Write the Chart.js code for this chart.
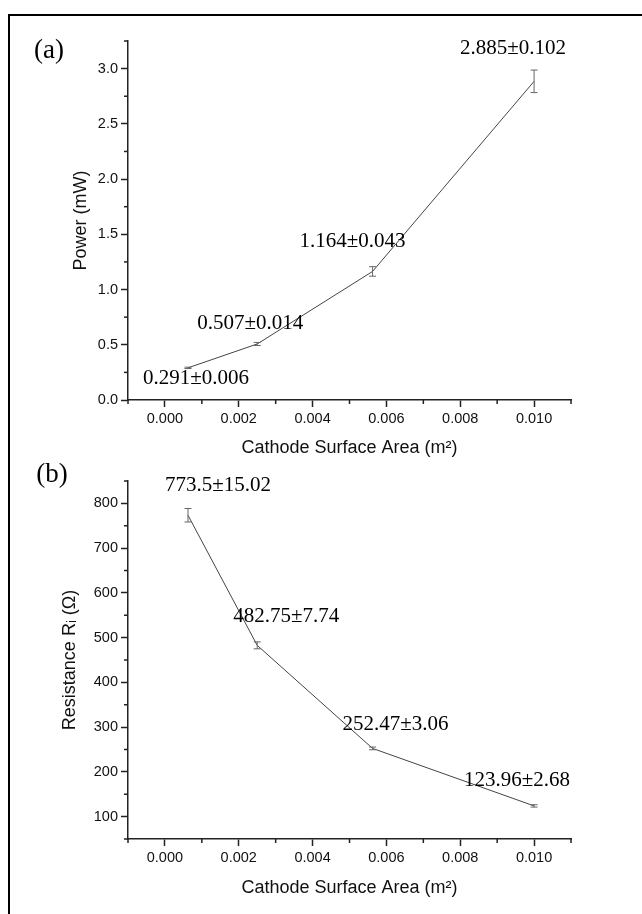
<!DOCTYPE html>
<html><head><meta charset="utf-8">
<script src="https://cdn.jsdelivr.net/npm/chart.js@4.4.1/dist/chart.umd.min.js"></script>
<style>
html,body{margin:0;padding:0;background:#fff;}
#wrap{position:relative;width:642px;height:914px;overflow:hidden;}
#frame{position:absolute;left:8px;top:14px;width:640px;height:910px;border-top:2px solid #000;border-left:2px solid #000;}
canvas{position:absolute;left:0;}
#ca{top:0;} #cb{top:460px;}
</style></head><body>
<div id="wrap"><div id="frame"></div>
<canvas id="ca" width="642" height="460"></canvas>
<canvas id="cb" width="642" height="454"></canvas>
</div>
<script>
// ---- data ----
const areas = [0.000625, 0.0025, 0.005625, 0.010];
const power = [0.291, 0.507, 1.164, 2.885];
const powerErr = [0.006, 0.014, 0.043, 0.102];
const resistance = [773.5, 482.75, 252.47, 123.96];
const resistanceErr = [15.02, 7.74, 3.06, 2.68];
const xTicks = [0, 0.002, 0.004, 0.006, 0.008, 0.010];
const xMinorTicks = [-0.001, 0.001, 0.003, 0.005, 0.007, 0.009, 0.011];
const powerTicks = [0, 0.5, 1.0, 1.5, 2.0, 2.5, 3.0];
const powerMinorTicks = [0.25, 0.75, 1.25, 1.75, 2.25, 2.75, 3.25];
const resTicks = [100, 200, 300, 400, 500, 600, 700, 800];
const resMinorTicks = [50, 150, 250, 350, 450, 550, 650, 750, 850];
const xTitle = 'Cathode Surface Area (m\u00B2)';
const powerTitle = 'Power (mW)';
const resTitle = 'Resistance R\u1D62 (\u03A9)';

const SANS = '"Liberation Sans", Arial, sans-serif';
const SERIF = '"Liberation Serif", "Times New Roman", serif';

const decor = {
  id: 'decor',
  afterDatasetsDraw(chart, args, o) {
    const ctx = chart.ctx, xs = chart.scales.x, ys = chart.scales.y;
    const ds = chart.data.datasets[0];
    ctx.save();
    // minor ticks
    ctx.strokeStyle = '#222'; ctx.lineWidth = 1.5;
    o.xMinor.forEach(v => { const px = xs.getPixelForValue(v); ctx.beginPath(); ctx.moveTo(px, xs.top); ctx.lineTo(px, xs.top + o.minorLen); ctx.stroke(); });
    o.yMinor.forEach(v => { const py = ys.getPixelForValue(v); ctx.beginPath(); ctx.moveTo(ys.right, py); ctx.lineTo(ys.right - o.minorLen, py); ctx.stroke(); });
    // error bars
    ctx.strokeStyle = '#666'; ctx.lineWidth = 1;
    ds.data.forEach((p, i) => {
      const e = ds.errors[i];
      const px = xs.getPixelForValue(p.x);
      const t = ys.getPixelForValue(p.y + e), b = ys.getPixelForValue(p.y - e);
      ctx.beginPath();
      ctx.moveTo(px, t); ctx.lineTo(px, b);
      ctx.moveTo(px - o.cap, t); ctx.lineTo(px + o.cap, t);
      ctx.moveTo(px - o.cap, b); ctx.lineTo(px + o.cap, b);
      ctx.stroke();
    });
    // value labels
    ctx.fillStyle = '#000'; ctx.font = o.labelFont;
    ctx.textAlign = 'center'; ctx.textBaseline = 'middle';
    ds.data.forEach((p, i) => {
      const px = xs.getPixelForValue(p.x), py = ys.getPixelForValue(p.y);
      const off = o.offsets[i];
      ctx.fillText(p.y + '\u00B1' + ds.errors[i], px + off[0], py + off[1]);
    });
    // panel letter
    ctx.font = o.panelFont;
    ctx.fillText(o.panel, chart.chartArea.left + o.panelPos[0], chart.chartArea.top + o.panelPos[1]);
    ctx.restore();
  }
};

function makeChart(id, yVals, yErr, yMin, yMax, yMajor, yMinor, yDigits, yTitleText, L) {
  return new Chart(document.getElementById(id), {
    type: 'scatter',
    data: {
      datasets: [{
        data: areas.map((a, i) => ({ x: a, y: yVals[i] })),
        errors: yErr,
        showLine: true,
        borderColor: '#444',
        borderWidth: 1,
        pointRadius: 0,
        tension: 0
      }]
    },
    options: {
      responsive: false,
      animation: false,
      devicePixelRatio: 1,
      layout: { padding: { top: L.top, right: 71, left: 0, bottom: 0 } },
      plugins: {
        legend: { display: false },
        tooltip: { enabled: false },
        decor: {
          xMinor: xMinorTicks, yMinor: yMinor, minorLen: 4, cap: 3.5,
          labelFont: '21px ' + SERIF, offsets: L.offsets,
          panel: L.panel, panelFont: '27px ' + SERIF, panelPos: L.panelPos
        }
      },
      scales: {
        x: {
          type: 'linear', min: -0.001, max: 0.011,
          afterFit: s => { s.height = L.xH; },
          afterBuildTicks: s => { s.ticks = xTicks.map(v => ({ value: v })); },
          grid: { drawOnChartArea: false, tickLength: 7, tickColor: '#222', tickWidth: 1.5 },
          border: { color: '#222', width: 1.5 },
          ticks: { autoSkip: false, maxRotation: 0, padding: 3, color: '#111',
                   font: { family: SANS, size: 14.5 }, callback: v => Number(v).toFixed(3) },
          title: { display: true, text: xTitle, color: '#111', font: { family: SANS, size: 18 },
                   padding: { top: 0, bottom: L.xTitlePad } }
        },
        y: {
          type: 'linear', min: yMin, max: yMax,
          afterFit: s => { s.width = 128; },
          afterBuildTicks: s => { s.ticks = yMajor.map(v => ({ value: v })); },
          grid: { drawOnChartArea: false, tickLength: 7, tickColor: '#222', tickWidth: 1.5 },
          border: { color: '#222', width: 1.5 },
          ticks: { autoSkip: false, padding: 3, color: '#111',
                   font: { family: SANS, size: 14.5 }, callback: v => Number(v).toFixed(yDigits) },
          title: { display: true, text: yTitleText, color: '#111', font: { family: SANS, size: 18 },
                   padding: { top: L.yTitlePad, bottom: 0 } }
        }
      }
    },
    plugins: [decor]
  });
}

makeChart('ca', power, powerErr, 0, 3.25, powerTicks, powerMinorTicks, 1, powerTitle, {
  top: 41, xH: 60, xTitlePad: 1.2, yTitlePad: 70.2, panel: '(a)', panelPos: [-79, 10],
  offsets: [[8, 11], [-7, -21], [-20, -30], [-21, -33]]
});
makeChart('cb', resistance, resistanceErr, 50, 850, resTicks, resMinorTicks, 0, resTitle, {
  top: 21, xH: 75, xTitlePad: 15.2, yTitlePad: 59.2, panel: '(b)', panelPos: [-76, -6],
  offsets: [[30, -30], [29, -29], [23, -24], [-17, -25]]
});
</script>
</body></html>
